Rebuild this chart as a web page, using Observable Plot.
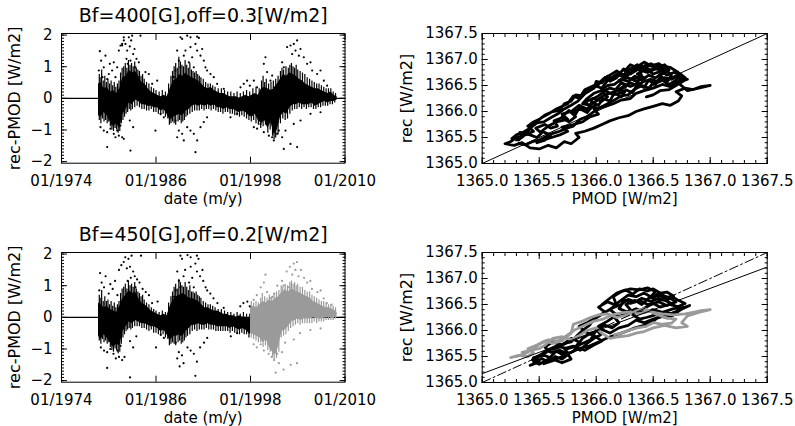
<!DOCTYPE html>
<html><head><meta charset="utf-8">
<script src="https://cdn.jsdelivr.net/npm/d3@7"></script>
<script src="https://cdn.jsdelivr.net/npm/@observablehq/plot@0.6"></script>
<style>
body{margin:0;background:#fff;}
#fig{position:relative;width:795px;height:426px;overflow:hidden;background:#fff;}
#fig > svg{position:absolute;}
</style></head><body><div id="fig"></div>
<script>
// ---------- tick labels ----------
const yearTicks = [1974, 1986, 1998, 2010];
const yearTickLabels = ["01/1974", "01/1986", "01/1998", "01/2010"];
const resTicks = [-2, -1, 0, 1, 2];
const tsiTicks = [1365.0, 1365.5, 1366.0, 1366.5, 1367.0, 1367.5];

// ---------- top-left: dense core band [year, low, high] ----------
const tlBand = [
[1978.7,-0.55,0.45],[1979.0,-0.6,0.5],[1979.4,-0.45,0.3],[1979.8,-0.55,0.35],[1980.2,-0.75,0.2],
[1980.6,-0.9,0.25],[1981.0,-0.8,0.15],[1981.4,-0.95,0.3],[1981.8,-0.5,0.65],[1982.2,-0.35,0.7],
[1982.6,-0.15,0.9],[1983.0,-0.2,0.8],[1983.4,-0.05,0.85],[1983.8,-0.1,0.7],[1984.2,-0.2,0.5],
[1984.6,-0.2,0.45],[1985.0,-0.25,0.3],[1985.4,-0.25,0.2],[1985.8,-0.3,0.15],[1986.2,-0.3,0.1],
[1986.6,-0.4,0.05],[1987.0,-0.35,0.1],[1987.4,-0.5,0.05],[1987.8,-0.7,0.3],[1988.2,-0.6,0.55],
[1988.6,-0.55,0.6],[1989.0,-0.5,0.75],[1989.4,-0.55,0.7],[1989.8,-0.4,0.8],[1990.2,-0.35,0.7],
[1990.6,-0.25,0.65],[1991.0,-0.2,0.6],[1991.4,-0.25,0.55],[1991.8,-0.2,0.45],[1992.2,-0.25,0.35],
[1992.6,-0.2,0.3],[1993.0,-0.25,0.35],[1993.4,-0.2,0.25],[1993.8,-0.3,0.2],[1994.2,-0.3,0.15],
[1994.6,-0.35,0.15],[1995.0,-0.3,0.1],[1995.4,-0.35,0.05],[1995.8,-0.35,0.05],[1996.2,-0.4,0.05],
[1996.6,-0.45,0.0],[1997.0,-0.4,0.05],[1997.4,-0.45,0.1],[1997.8,-0.55,0.05],[1998.2,-0.6,0.1],
[1998.6,-0.5,0.15],[1999.0,-0.7,0.1],[1999.4,-0.8,0.3],[1999.8,-0.7,0.35],[2000.2,-0.95,0.3],
[2000.6,-0.75,0.25],[2001.0,-1.15,0.3],[2001.4,-1.0,0.45],[2001.8,-0.6,0.6],[2002.2,-0.45,0.75],
[2002.6,-0.5,0.7],[2003.0,-0.3,0.8],[2003.4,-0.2,0.75],[2003.8,-0.2,0.7],[2004.2,-0.15,0.6],
[2004.6,-0.2,0.55],[2005.0,-0.2,0.45],[2005.4,-0.2,0.4],[2005.8,-0.15,0.35],[2006.2,-0.25,0.3],
[2006.6,-0.2,0.3],[2007.0,-0.15,0.25],[2007.4,-0.1,0.2],[2007.8,-0.15,0.15],[2008.2,-0.1,0.2],
[2008.6,-0.1,0.1],[2009.0,-0.05,0.05]
];
// top-left: tips of the streaks just outside the core [year, rec-PMOD]
const tlFringe = [
[1978.8,0.75],[1979.0,0.65],[1979.1,0.9],[1979.3,0.55],[1979.5,0.7],[1979.7,0.5],[1979.9,0.6],[1980.1,0.45],[1980.3,0.55],
[1980.5,0.4],[1980.7,0.5],[1980.9,0.35],[1981.1,0.45],[1981.3,0.55],[1981.5,0.8],[1981.7,0.95],[1981.9,1.0],[1982.1,1.1],
[1982.3,0.95],[1982.5,1.2],[1982.7,1.05],[1982.9,1.1],[1983.1,1.0],[1983.3,1.15],[1983.5,0.95],[1983.7,0.9],[1983.9,0.85],
[1984.1,0.7],[1984.3,0.75],[1984.5,0.6],[1984.8,0.5],[1985.1,0.45],[1985.4,0.35],[1985.7,0.3],[1986.0,0.25],[1986.4,0.2],
[1986.8,0.25],[1987.2,0.2],[1987.6,0.45],[1987.9,0.7],[1988.1,0.85],[1988.3,1.0],[1988.5,1.1],[1988.7,0.95],[1988.9,1.3],
[1989.1,1.15],[1989.3,1.05],[1989.5,1.0],[1989.7,1.2],[1989.9,1.05],[1990.1,0.95],[1990.3,1.1],[1990.5,0.9],[1990.7,0.85],
[1990.9,0.8],[1991.1,0.85],[1991.3,0.75],[1991.5,0.7],[1991.7,0.65],[1992.0,0.6],[1992.3,0.5],[1992.6,0.45],[1992.9,0.45],
[1993.2,0.4],[1993.5,0.35],[1993.9,0.3],[1994.3,0.3],[1994.7,0.25],[1995.1,0.2],[1995.5,0.2],[1995.9,0.15],[1996.3,0.2],
[1996.7,0.15],[1997.1,0.2],[1997.5,0.25],[1997.9,0.2],[1998.3,0.3],[1998.7,0.35],[1999.1,0.3],[1999.4,0.55],[1999.6,0.7],
[1999.8,0.5],[2000.0,0.6],[2000.3,0.45],[2000.6,0.5],[2000.9,0.55],[2001.2,0.6],[2001.5,0.7],[2001.8,0.85],[2002.0,0.95],
[2002.2,0.9],[2002.5,1.0],[2002.8,0.95],[2003.0,1.05],[2003.2,1.1],[2003.4,1.0],[2003.6,0.95],[2003.8,1.05],[2004.0,0.9],
[2004.3,0.85],[2004.6,0.8],[2004.9,0.75],[2005.2,0.65],[2005.5,0.6],[2005.8,0.55],[2006.1,0.5],[2006.4,0.45],[2006.7,0.45],
[2007.0,0.4],[2007.3,0.35],[2007.6,0.3],[2007.9,0.3],[2008.2,0.3],[2008.5,0.2],[2008.8,0.15],
[1978.8,-0.7],[1979.0,-0.8],[1979.2,-0.65],[1979.4,-0.75],[1979.6,-0.7],[1979.8,-0.8],[1980.0,-0.75],[1980.2,-0.9],[1980.4,-1.0],
[1980.6,-1.05],[1980.8,-0.95],[1981.0,-1.0],[1981.2,-1.1],[1981.4,-1.05],[1981.6,-0.8],[1981.8,-0.7],[1982.0,-0.6],[1982.2,-0.5],
[1982.4,-0.45],[1982.6,-0.35],[1982.8,-0.4],[1983.0,-0.35],[1983.3,-0.3],[1983.6,-0.25],[1983.9,-0.3],[1984.2,-0.35],[1984.5,-0.35],
[1984.8,-0.4],[1985.1,-0.4],[1985.4,-0.35],[1985.7,-0.45],[1986.0,-0.45],[1986.3,-0.5],[1986.6,-0.55],[1986.9,-0.5],[1987.2,-0.6],
[1987.5,-0.65],[1987.7,-0.85],[1987.9,-0.8],[1988.1,-0.75],[1988.3,-0.8],[1988.5,-0.85],[1988.8,-0.75],[1989.0,-0.7],[1989.2,-0.8],
[1989.4,-0.75],[1989.6,-0.7],[1989.8,-0.6],[1990.0,-0.55],[1990.3,-0.5],[1990.6,-0.45],[1990.9,-0.4],[1991.2,-0.4],[1991.5,-0.4],
[1991.8,-0.35],[1992.1,-0.4],[1992.4,-0.35],[1992.7,-0.35],[1993.0,-0.4],[1993.3,-0.35],[1993.6,-0.4],[1993.9,-0.45],[1994.2,-0.45],
[1994.5,-0.5],[1994.8,-0.45],[1995.1,-0.45],[1995.4,-0.5],[1995.7,-0.5],[1996.0,-0.55],[1996.3,-0.55],[1996.6,-0.6],[1996.9,-0.55],
[1997.2,-0.6],[1997.5,-0.65],[1997.8,-0.7],[1998.1,-0.75],[1998.4,-0.7],[1998.7,-0.8],[1999.0,-0.85],[1999.3,-0.95],[1999.6,-0.9],
[1999.9,-0.85],[2000.2,-1.1],[2000.5,-1.0],[2000.8,-1.2],[2001.0,-1.3],[2001.2,-1.25],[2001.5,-1.15],[2001.8,-0.8],[2002.1,-0.65],
[2002.4,-0.7],[2002.7,-0.65],[2003.0,-0.5],[2003.3,-0.4],[2003.6,-0.35],[2003.9,-0.35],[2004.2,-0.3],[2004.5,-0.35],[2004.8,-0.3],
[2005.1,-0.35],[2005.4,-0.3],[2005.7,-0.3],[2006.0,-0.35],[2006.3,-0.35],[2006.6,-0.3],[2006.9,-0.3],[2007.2,-0.25],[2007.5,-0.25],
[2007.8,-0.25],[2008.1,-0.2],[2008.4,-0.2],[2008.7,-0.15]
];
// top-left: isolated outliers
const tlDots = [
[1978.87,1.49],[1979.03,1.19],[1979.37,0.98],[1979.58,1.35],[1980.01,0.77],[1980.14,1.09],[1979.2,0.67],[1979.8,0.61],
[1978.74,0.88],[1980.43,0.88],[1980.64,1.14],[1980.85,0.67],[1981.07,0.98],[1981.28,1.51],[1981.49,1.67],[1981.7,1.72],
[1981.91,1.83],[1981.7,1.67],[1981.91,1.93],[1982.12,1.72],[1982.34,1.51],[1982.55,1.93],[1982.67,1.64],[1982.84,1.83],
[1982.97,1.98],[1983.1,1.40],[1983.27,1.56],[1983.52,1.25],[1983.82,1.14],[1984.03,1.98],[1982.25,1.25],[1982.42,1.09],
[1982.76,1.19],[1983.39,0.98],
[1978.95,-0.91],[1979.37,-1.02],[1979.8,-1.07],[1980.22,-0.96],[1980.64,-1.12],[1980.85,-1.23],[1981.07,-1.02],[1981.28,-1.18],
[1981.7,-1.23],[1981.91,-1.28],[1981.49,-0.86],[1980.43,-0.81],[1979.8,-1.54],[1982.76,-1.65],[1983.1,-0.91],[1982.67,-0.70],
[1984.66,0.83],[1985.09,0.77],[1985.51,0.46],[1986.15,0.56],[1986.57,-0.49],[1986.99,-0.6],[1985.93,-1.02],
[1989.11,1.93],[1989.32,1.88],[1989.96,1.98],[1990.38,1.93],[1991.23,1.95],[1991.44,1.91],[1991.01,1.72],[1990.38,1.62],
[1989.74,1.51],[1988.69,1.51],[1988.9,1.19],[1989.11,0.98],[1989.53,1.35],[1990.17,1.14],[1990.59,1.30],[1990.8,0.98],
[1991.65,1.35],[1992.07,1.19],[1992.28,0.98],[1992.49,0.88],[1992.92,0.77],[1993.34,0.67],[1991.86,1.56],[1991.23,1.51],
[1988.47,0.88],[1988.26,0.67],
[1988.47,-0.70],[1988.9,-1.02],[1989.32,-1.12],[1989.53,-1.33],[1989.96,-0.91],[1990.38,-1.02],[1990.8,-1.12],[1991.23,-1.33],
[1991.65,-0.91],[1992.07,-0.75],[1992.49,-0.60],[1989.11,-0.49],[1991.01,-1.70],[1988.69,-1.23],
[1993.76,0.46],[1994.61,0.30],[1996.73,0.35],[1997.15,0.46],[1995.46,-0.60],[1996.3,-0.49],[1997.57,0.56],[1997.91,0.40],
[1999.69,1.09],[1999.9,1.30],[2000.11,0.83],[2000.54,0.56],[2000.96,0.35],[2002.02,1.14],[2002.23,0.98],[2002.65,1.62],
[2003.08,1.67],[2003.29,1.40],[2003.5,1.72],[2003.71,1.51],[2003.92,1.83],[2004.14,1.35],[2004.35,1.56],[2004.77,1.30],
[2005.19,1.09],[2005.62,1.14],[2005.83,0.88],[2006.46,0.77],[2006.89,0.88],[2007.31,0.56],[2007.73,0.40],[2002.86,0.77],
[2002.44,0.67],[2000.75,0.72],[1998.84,0.35],[1998.42,0.56],
[1998.42,-0.91],[1998.84,-0.96],[1999.27,-0.81],[1999.69,-1.07],[2000.33,-1.18],[2000.75,-1.23],[2000.96,-1.33],[2001.38,-1.12],
[2001.6,-1.02],[2002.02,-1.23],[2002.44,-1.02],[2003.08,-1.44],[2003.92,-1.54],[2002.23,-1.60],[2003.5,-0.81],[2004.35,-0.70],
[2005.62,-0.49],[2006.89,-0.44]
];

// ---------- bottom-left: black core (to 1998) and grey core (from 1998) ----------
const blBandBlack = [
[1978.7,-0.6,0.45],[1979.0,-0.7,0.4],[1979.4,-0.55,0.3],[1979.8,-0.65,0.35],[1980.2,-0.8,0.25],
[1980.6,-0.95,0.2],[1981.0,-0.85,0.15],[1981.4,-0.9,0.35],[1981.8,-0.45,0.6],[1982.2,-0.3,0.7],
[1982.6,-0.15,0.85],[1983.0,-0.2,0.75],[1983.4,-0.1,0.8],[1983.8,-0.15,0.6],[1984.2,-0.2,0.45],
[1984.6,-0.2,0.4],[1985.0,-0.25,0.3],[1985.4,-0.3,0.2],[1985.8,-0.3,0.15],[1986.2,-0.35,0.1],
[1986.6,-0.45,0.05],[1987.0,-0.4,0.1],[1987.4,-0.55,0.05],[1987.8,-0.75,0.35],[1988.2,-0.6,0.55],
[1988.6,-0.6,0.65],[1989.0,-0.55,0.7],[1989.4,-0.6,0.75],[1989.8,-0.45,0.7],[1990.2,-0.35,0.6],
[1990.6,-0.25,0.6],[1991.0,-0.25,0.55],[1991.4,-0.2,0.5],[1991.8,-0.25,0.4],[1992.2,-0.25,0.3],
[1992.6,-0.2,0.3],[1993.0,-0.25,0.25],[1993.4,-0.25,0.2],[1993.8,-0.3,0.2],[1994.2,-0.3,0.15],
[1994.6,-0.3,0.1],[1995.0,-0.3,0.1],[1995.4,-0.35,0.05],[1995.8,-0.3,0.05],[1996.2,-0.35,0.0],
[1996.6,-0.4,0.05],[1997.0,-0.35,0.0],[1997.4,-0.4,0.0],[1997.8,-0.5,-0.05],[1998.0,-0.55,0.0]
];
const blBandGrey = [
[1998.0,-0.5,0.3],[1998.4,-0.55,0.35],[1998.8,-0.6,0.3],[1999.2,-0.65,0.4],[1999.6,-0.8,0.5],
[2000.0,-0.7,0.45],[2000.4,-0.95,0.55],[2000.8,-1.1,0.5],[2001.2,-1.2,0.6],[2001.6,-0.9,0.65],
[2002.0,-0.45,0.8],[2002.4,-0.4,0.85],[2002.8,-0.3,0.8],[2003.2,-0.15,0.9],[2003.6,-0.1,0.85],
[2004.0,-0.05,0.8],[2004.4,-0.1,0.75],[2004.8,-0.05,0.7],[2005.2,-0.05,0.65],[2005.6,-0.05,0.6],
[2006.0,0.0,0.5],[2006.4,-0.05,0.45],[2006.8,-0.05,0.4],[2007.2,-0.05,0.35],[2007.6,0.0,0.3],
[2008.0,0.0,0.3],[2008.4,-0.05,0.25],[2008.8,0.0,0.2],[2009.0,0.05,0.15]
];
const blFringeBlack = [
[1978.8,0.7],[1979.0,0.6],[1979.1,0.85],[1979.3,0.5],[1979.5,0.65],[1979.7,0.5],[1979.9,0.55],[1980.1,0.4],[1980.3,0.5],
[1980.5,0.35],[1980.7,0.45],[1980.9,0.3],[1981.1,0.4],[1981.3,0.5],[1981.5,0.75],[1981.7,0.9],[1981.9,0.95],[1982.1,1.05],
[1982.3,0.9],[1982.5,1.15],[1982.7,1.0],[1982.9,1.05],[1983.1,0.95],[1983.3,1.1],[1983.5,0.9],[1983.7,0.8],[1983.9,0.75],
[1984.1,0.65],[1984.3,0.7],[1984.5,0.55],[1984.8,0.45],[1985.1,0.4],[1985.4,0.3],[1985.7,0.25],[1986.0,0.2],[1986.4,0.15],
[1986.8,0.2],[1987.2,0.15],[1987.6,0.45],[1987.9,0.65],[1988.1,0.8],[1988.3,0.95],[1988.5,1.05],[1988.7,0.9],[1988.9,1.2],
[1989.1,1.1],[1989.3,1.0],[1989.5,0.95],[1989.7,1.1],[1989.9,0.95],[1990.1,0.85],[1990.3,1.0],[1990.5,0.8],[1990.7,0.8],
[1990.9,0.75],[1991.1,0.8],[1991.3,0.7],[1991.5,0.65],[1991.7,0.6],[1992.0,0.5],[1992.3,0.45],[1992.6,0.4],[1992.9,0.4],
[1993.2,0.35],[1993.5,0.3],[1993.9,0.25],[1994.3,0.25],[1994.7,0.2],[1995.1,0.15],[1995.5,0.15],[1995.9,0.1],[1996.3,0.15],
[1996.7,0.1],[1997.1,0.15],[1997.5,0.1],[1997.9,0.1],
[1978.8,-0.75],[1979.0,-0.85],[1979.2,-0.7],[1979.4,-0.8],[1979.6,-0.75],[1979.8,-0.85],[1980.0,-0.8],[1980.2,-0.95],[1980.4,-1.05],
[1980.6,-1.1],[1980.8,-1.0],[1981.0,-1.05],[1981.2,-1.15],[1981.4,-1.1],[1981.6,-0.85],[1981.8,-0.65],[1982.0,-0.55],[1982.2,-0.45],
[1982.4,-0.4],[1982.6,-0.35],[1982.8,-0.4],[1983.0,-0.35],[1983.3,-0.3],[1983.6,-0.3],[1983.9,-0.3],[1984.2,-0.35],[1984.5,-0.35],
[1984.8,-0.4],[1985.1,-0.45],[1985.4,-0.4],[1985.7,-0.5],[1986.0,-0.5],[1986.3,-0.55],[1986.6,-0.6],[1986.9,-0.55],[1987.2,-0.65],
[1987.5,-0.7],[1987.7,-0.9],[1987.9,-0.85],[1988.1,-0.8],[1988.3,-0.85],[1988.5,-0.9],[1988.8,-0.8],[1989.0,-0.75],[1989.2,-0.85],
[1989.4,-0.8],[1989.6,-0.75],[1989.8,-0.65],[1990.0,-0.6],[1990.3,-0.55],[1990.6,-0.45],[1990.9,-0.4],[1991.2,-0.45],[1991.5,-0.4],
[1991.8,-0.4],[1992.1,-0.4],[1992.4,-0.35],[1992.7,-0.4],[1993.0,-0.4],[1993.3,-0.4],[1993.6,-0.45],[1993.9,-0.45],[1994.2,-0.45],
[1994.5,-0.45],[1994.8,-0.45],[1995.1,-0.45],[1995.4,-0.5],[1995.7,-0.45],[1996.0,-0.5],[1996.3,-0.5],[1996.6,-0.55],[1996.9,-0.5],
[1997.2,-0.55],[1997.5,-0.55],[1997.8,-0.65]
];
const blFringeGrey = [
[1998.1,0.5],[1998.4,0.45],[1998.7,0.5],[1999.0,0.45],[1999.3,0.6],[1999.5,0.75],[1999.8,0.65],[2000.1,0.6],[2000.4,0.7],
[2000.7,0.65],[2001.0,0.75],[2001.3,0.8],[2001.6,0.85],[2001.9,1.0],[2002.1,0.95],[2002.4,1.05],[2002.7,1.0],[2003.0,1.1],
[2003.2,1.15],[2003.4,1.05],[2003.6,1.1],[2003.8,1.0],[2004.0,1.05],[2004.3,0.95],[2004.6,0.95],[2004.9,0.85],[2005.2,0.8],
[2005.5,0.8],[2005.8,0.7],[2006.1,0.65],[2006.4,0.6],[2006.7,0.55],[2007.0,0.5],[2007.3,0.5],[2007.6,0.45],[2007.9,0.4],
[2008.2,0.4],[2008.5,0.35],[2008.8,0.3],
[1998.1,-0.65],[1998.4,-0.7],[1998.7,-0.75],[1999.0,-0.8],[1999.3,-0.8],[1999.6,-0.95],[1999.9,-0.9],[2000.2,-1.05],[2000.5,-1.1],
[2000.8,-1.25],[2001.0,-1.35],[2001.3,-1.3],[2001.6,-1.1],[2001.9,-0.65],[2002.2,-0.6],[2002.5,-0.55],[2002.8,-0.45],[2003.1,-0.35],
[2003.4,-0.3],[2003.7,-0.25],[2004.0,-0.2],[2004.3,-0.25],[2004.6,-0.2],[2004.9,-0.2],[2005.2,-0.2],[2005.5,-0.2],[2005.8,-0.2],
[2006.1,-0.15],[2006.4,-0.2],[2006.7,-0.15],[2007.0,-0.15],[2007.3,-0.15],[2007.6,-0.1],[2007.9,-0.1],[2008.2,-0.1],[2008.5,-0.1],
[2008.8,-0.05]
];
const blDotsBlack = [
[1978.9,1.4],[1979.1,1.1],[1979.4,0.95],[1979.6,1.3],[1980.0,0.75],[1980.2,1.05],[1978.8,0.85],[1980.5,0.9],[1980.8,1.15],
[1981.1,0.7],[1981.3,1.5],[1981.6,1.65],[1981.9,1.75],
[1982.1,1.9],[1982.3,1.55],[1982.5,1.85],[1982.7,1.6],[1982.9,1.95],[1983.1,1.45],[1983.3,1.3],[1983.6,1.2],[1983.9,1.1],
[1984.1,1.95],[1982.4,1.15],[1982.8,1.25],[1983.4,0.95],[1984.3,0.9],
[1979.0,-0.95],[1979.4,-1.05],[1979.8,-1.1],[1980.2,-1.0],[1980.6,-1.15],[1980.9,-1.3],[1981.1,-1.05],[1981.3,-1.25],
[1981.7,-1.35],[1982.0,-1.25],[1981.5,-0.9],[1980.4,-0.85],[1979.8,-1.6],[1982.7,-1.9],[1983.1,-0.95],[1982.7,-0.75],[1983.5,-0.6],
[1984.7,0.8],[1985.1,0.7],[1985.5,0.45],[1986.2,0.5],[1986.6,-0.55],[1987.0,-0.65],[1986.0,-0.95],
[1989.1,1.95],[1989.3,1.85],[1990.0,1.97],[1990.4,1.9],[1991.2,1.95],[1991.4,1.85],[1991.0,1.7],[1990.4,1.6],[1989.7,1.5],
[1988.7,1.45],[1988.9,1.15],[1989.1,0.95],[1989.5,1.3],[1990.2,1.1],[1990.6,1.25],[1990.8,0.95],[1991.6,1.3],[1992.0,1.15],
[1992.3,0.95],[1992.5,0.85],[1992.9,0.75],[1993.3,0.6],[1991.9,1.5],[1991.2,1.45],[1988.5,0.85],[1988.3,0.65],
[1988.5,-0.8],[1988.9,-1.1],[1989.3,-1.2],[1989.5,-1.45],[1990.0,-0.95],[1990.4,-1.05],[1990.8,-1.15],[1991.2,-1.4],
[1991.6,-0.95],[1992.1,-0.8],[1992.5,-0.65],[1989.1,-0.55],[1991.0,-1.85],[1988.7,-1.3],[1989.0,-1.55],
[1993.8,0.45],[1994.6,0.3],[1996.7,0.35],[1997.1,0.45],[1995.5,-0.6],[1996.3,-0.5],[1997.6,0.5],[1997.9,0.35]
];
const blDotsGrey = [
[1998.4,0.55],[1998.8,0.7],[1999.3,0.95],[1999.7,1.1],[1999.9,1.35],[2000.1,0.8],[2000.5,0.6],[2001.0,0.75],[2001.4,1.0],
[2002.0,1.15],[2002.2,1.0],[2002.6,1.45],[2003.0,1.6],[2003.3,1.35],[2003.5,1.7],[2003.7,1.5],[2003.9,1.75],[2004.1,1.3],
[2004.4,1.5],[2004.8,1.25],[2005.2,1.1],[2005.6,1.15],[2005.8,0.9],[2006.5,0.8],[2006.9,0.85],[2007.3,0.6],[2007.7,0.45],
[2002.9,0.95],[2002.4,0.85],[2000.8,0.65],[2008.3,0.4],
[1998.4,-0.85],[1998.8,-0.95],[1999.3,-0.85],[1999.7,-1.05],[2000.3,-1.15],[2000.7,-1.25],[2001.0,-1.35],[2001.4,-1.15],
[2001.6,-1.45],[2002.0,-1.1],[2002.4,-0.8],[2003.1,-1.5],[2003.9,-1.45],[2002.2,-1.65],[2003.5,-0.7],[2004.3,-0.5],
[2005.6,-0.4],[2006.9,-0.35],[2001.2,-1.75]
];

// ---------- top-right: rec vs PMOD traces [PMOD, rec] ----------
const trPath = [
[1366.62,1366.80],[1366.55,1366.92],[1366.48,1366.88],[1366.42,1366.95],[1366.35,1366.85],[1366.30,1366.90],[1366.25,1366.78],
[1366.28,1366.70],[1366.20,1366.72],[1366.15,1366.62],[1366.10,1366.68],[1366.05,1366.55],[1366.00,1366.58],[1365.98,1366.45],
[1365.92,1366.40],[1365.88,1366.30],[1365.82,1366.32],[1365.78,1366.20],[1365.72,1366.15],[1365.68,1366.02],[1365.62,1366.00],
[1365.55,1365.93],[1365.50,1365.85],[1365.45,1365.80],[1365.40,1365.72],[1365.45,1365.62],[1365.38,1365.55],[1365.30,1365.50],
[1365.25,1365.42],[1365.20,1365.38],[1365.28,1365.35],[1365.35,1365.40],[1365.42,1365.30],[1365.50,1365.28],[1365.58,1365.35],
[1365.65,1365.30],[1365.72,1365.42],[1365.78,1365.38],
[1365.85,1365.50],[1365.82,1365.58],[1365.90,1365.62],[1365.98,1365.68],[1366.05,1365.75],[1366.12,1365.82],[1366.20,1365.88],
[1366.28,1365.92],[1366.35,1366.00],[1366.42,1366.05],[1366.50,1366.10],[1366.58,1366.15],[1366.65,1366.12],[1366.72,1366.20],
[1366.75,1366.30],[1366.70,1366.38],[1366.78,1366.45],[1366.85,1366.42],[1366.92,1366.48],[1367.00,1366.50],[1366.90,1366.45],
[1366.80,1366.40],
[1366.72,1366.55],[1366.80,1366.62],[1366.70,1366.68],[1366.62,1366.60],[1366.55,1366.70],[1366.60,1366.78],[1366.52,1366.82],
[1366.45,1366.75],[1366.38,1366.80],[1366.40,1366.68],[1366.32,1366.62],[1366.38,1366.55],[1366.30,1366.48],[1366.22,1366.55],
[1366.18,1366.45],[1366.25,1366.38],[1366.15,1366.32],[1366.08,1366.40],[1366.02,1366.30],[1365.95,1366.22],[1366.00,1366.12],
[1365.92,1366.05],[1365.85,1366.12],[1365.78,1366.00],[1365.70,1365.95],[1365.75,1365.85],[1365.65,1365.80],[1365.58,1365.72],
[1365.52,1365.62],[1365.60,1365.55],[1365.55,1365.45],[1365.48,1365.40],
[1365.58,1365.48],[1365.68,1365.55],[1365.75,1365.62],[1365.70,1365.70],[1365.80,1365.75],[1365.88,1365.80],[1365.95,1365.90],
[1366.02,1365.95],[1365.98,1366.05],[1366.08,1366.10],[1366.15,1366.15],[1366.22,1366.22],[1366.30,1366.25],[1366.35,1366.35],
[1366.42,1366.40],[1366.50,1366.45],[1366.58,1366.52],[1366.65,1366.48],[1366.72,1366.58],[1366.78,1366.65],[1366.72,1366.75],
[1366.65,1366.85],[1366.55,1366.88],[1366.48,1366.80],[1366.40,1366.88],[1366.32,1366.80],[1366.25,1366.65],[1366.18,1366.72],
[1366.10,1366.60],[1366.05,1366.45],[1365.98,1366.50],[1365.90,1366.42],[1365.85,1366.25],[1365.80,1366.30],[1365.75,1366.15],
[1365.65,1366.05],[1365.58,1365.95],[1365.52,1365.88],[1365.45,1365.75],[1365.40,1365.62],[1365.32,1365.45]
];
const trPath2 = [
[1365.30,1365.45],[1365.36,1365.52],[1365.33,1365.60],[1365.42,1365.55],[1365.48,1365.50],[1365.52,1365.58],[1365.47,1365.68],
[1365.55,1365.75],[1365.60,1365.68],[1365.66,1365.72],[1365.63,1365.82],[1365.70,1365.88],[1365.76,1365.80],[1365.82,1365.90],
[1365.78,1365.98],[1365.86,1366.05],[1365.92,1365.98],[1365.96,1366.08],[1365.90,1366.18],[1365.97,1366.25],[1366.05,1366.20],
[1366.10,1366.28],[1366.05,1366.38],[1366.12,1366.45],[1366.20,1366.40],[1366.26,1366.48],[1366.20,1366.60],[1366.28,1366.65],
[1366.35,1366.58],[1366.42,1366.65],[1366.36,1366.72],[1366.44,1366.82],[1366.50,1366.72],[1366.57,1366.78],[1366.62,1366.70],
[1366.68,1366.75],[1366.75,1366.70],[1366.70,1366.60],[1366.64,1366.52],[1366.58,1366.60],[1366.50,1366.55],[1366.46,1366.45],
[1366.40,1366.50],[1366.33,1366.42],[1366.28,1366.32],[1366.22,1366.30],[1366.16,1366.22],[1366.10,1366.15],[1366.04,1366.08],
[1365.98,1366.00],[1365.92,1365.90],[1365.86,1365.85],[1365.80,1365.72],[1365.74,1365.68],[1365.68,1365.62],[1365.62,1365.58],
[1365.56,1365.52],[1365.50,1365.45],[1365.44,1365.42],[1365.38,1365.36],[1365.32,1365.38]
];
const trPath3 = [
[1366.00,1366.50],[1366.06,1366.62],[1366.12,1366.70],[1366.18,1366.78],[1366.24,1366.70],[1366.30,1366.82],[1366.36,1366.90],
[1366.42,1366.82],[1366.48,1366.92],[1366.54,1366.85],[1366.60,1366.90],[1366.64,1366.80],[1366.58,1366.72],[1366.52,1366.65],
[1366.46,1366.70],[1366.40,1366.60],[1366.34,1366.68],[1366.28,1366.58],[1366.22,1366.62],[1366.16,1366.52],[1366.10,1366.50],
[1366.04,1366.40],[1365.98,1366.35],[1365.92,1366.25],[1365.88,1366.15],[1365.94,1366.12],[1366.00,1366.20],[1366.06,1366.30],
[1366.12,1366.35],[1366.18,1366.40],[1366.24,1366.48],[1366.30,1366.55],[1366.36,1366.50],[1366.42,1366.58],[1366.48,1366.62],
[1366.54,1366.58],[1366.60,1366.65],[1366.66,1366.62],[1366.72,1366.68],[1366.76,1366.58],[1366.70,1366.50],[1366.64,1366.42],
[1366.56,1366.40],[1366.50,1366.32],[1366.44,1366.28]
];
const trPath4 = [
[1365.70,1365.90],[1365.76,1366.02],[1365.82,1365.95],[1365.86,1366.10],[1365.92,1366.02],[1365.96,1366.18],[1366.02,1366.12],
[1366.06,1366.25],[1366.12,1366.20],[1366.16,1366.36],[1366.22,1366.28],[1366.26,1366.42],[1366.32,1366.36],[1366.36,1366.52],
[1366.42,1366.46],[1366.46,1366.60],[1366.52,1366.52],[1366.56,1366.66],[1366.62,1366.56],[1366.66,1366.70],[1366.60,1366.82],
[1366.50,1366.86],[1366.44,1366.90],[1366.36,1366.80],[1366.30,1366.72],[1366.24,1366.82],[1366.18,1366.65],[1366.12,1366.58],
[1366.08,1366.66],[1366.02,1366.52],[1365.96,1366.42],[1365.90,1366.34],[1365.84,1366.20],[1365.78,1366.12],[1365.72,1366.05],
[1365.66,1365.95],[1365.60,1365.88],[1365.54,1365.80],[1365.48,1365.78],[1365.42,1365.68],[1365.36,1365.60],[1365.30,1365.55],
[1365.26,1365.48]
];
const trLineX = [1365.0, 1367.5];
const trLineY = [1365.0, 1367.5];

// ---------- bottom-right ----------
const brPathBlack = [
[1365.42,1365.33],[1365.50,1365.40],[1365.45,1365.48],[1365.55,1365.52],[1365.62,1365.45],[1365.70,1365.38],[1365.78,1365.45],
[1365.75,1365.55],[1365.68,1365.62],[1365.60,1365.58],[1365.55,1365.68],[1365.62,1365.78],[1365.70,1365.72],[1365.78,1365.85],
[1365.85,1365.78],[1365.82,1365.68],[1365.90,1365.62],[1365.98,1365.72],[1366.05,1365.80],[1365.98,1365.90],[1365.90,1365.98],
[1365.85,1366.08],[1365.92,1366.15],[1366.00,1366.25],[1366.08,1366.35],[1366.02,1366.45],[1366.10,1366.55],[1366.18,1366.48],
[1366.15,1366.65],[1366.22,1366.75],[1366.30,1366.80],[1366.38,1366.78],[1366.45,1366.82],[1366.52,1366.75],[1366.48,1366.65],
[1366.58,1366.68],[1366.65,1366.62],[1366.70,1366.55],[1366.62,1366.48],[1366.55,1366.55],[1366.45,1366.50],[1366.38,1366.58],
[1366.30,1366.52],[1366.25,1366.60],[1366.20,1366.42],[1366.28,1366.35],[1366.35,1366.42],[1366.42,1366.35],[1366.50,1366.40],
[1366.58,1366.35],[1366.68,1366.42],[1366.78,1366.45],[1366.82,1366.48],[1366.72,1366.38],[1366.60,1366.28],[1366.50,1366.22],
[1366.42,1366.15],[1366.35,1366.20],[1366.28,1366.10],[1366.20,1366.05],[1366.12,1365.95],[1366.05,1366.02],[1365.95,1365.95],
[1365.88,1365.85],[1365.80,1365.60],[1365.72,1365.52],[1365.65,1365.60],[1365.58,1365.45],[1365.50,1365.35],[1365.45,1365.40],
[1365.55,1365.60],[1365.65,1365.70],[1365.75,1365.65],[1365.85,1365.72],[1365.95,1365.82],[1366.02,1366.08],[1366.10,1366.18],
[1366.18,1366.30],[1366.12,1366.40],[1366.20,1366.55],[1366.28,1366.68],[1366.35,1366.65],[1366.42,1366.72],[1366.50,1366.62],
[1366.60,1366.58],[1366.68,1366.50]
];
const brPathBlack2 = [
[1365.45,1365.36],[1365.52,1365.46],[1365.58,1365.40],[1365.64,1365.50],[1365.70,1365.45],[1365.76,1365.55],[1365.72,1365.65],
[1365.80,1365.70],[1365.86,1365.62],[1365.92,1365.75],[1365.98,1365.85],[1366.04,1365.92],[1366.00,1366.02],[1366.08,1366.10],
[1366.14,1366.05],[1366.20,1366.15],[1366.16,1366.25],[1366.24,1366.30],[1366.30,1366.40],[1366.26,1366.50],[1366.34,1366.58],
[1366.40,1366.50],[1366.46,1366.62],[1366.54,1366.70],[1366.60,1366.62],[1366.66,1366.66],[1366.72,1366.58],[1366.78,1366.52],
[1366.72,1366.46],[1366.64,1366.50],[1366.56,1366.45],[1366.50,1366.52],[1366.44,1366.45],[1366.38,1366.38],[1366.32,1366.30],
[1366.38,1366.22],[1366.44,1366.25],[1366.52,1366.30],[1366.60,1366.35],[1366.66,1366.32],[1366.74,1366.40],
[1366.68,1366.30],[1366.62,1366.24],[1366.56,1366.28],[1366.50,1366.18],[1366.42,1366.10],[1366.34,1366.05],[1366.26,1365.98],
[1366.18,1365.92],[1366.10,1365.86],[1366.02,1365.78],[1365.94,1365.70],[1365.86,1365.66],[1365.78,1365.58],[1365.70,1365.50],
[1365.62,1365.42],[1365.54,1365.36]
];
const brPathBlack3 = [
[1366.05,1366.50],[1366.12,1366.62],[1366.18,1366.72],[1366.26,1366.78],[1366.32,1366.70],[1366.38,1366.80],[1366.45,1366.76],
[1366.50,1366.80],[1366.56,1366.72],[1366.62,1366.74],[1366.68,1366.66],[1366.62,1366.58],[1366.55,1366.62],[1366.48,1366.56],
[1366.40,1366.62],[1366.34,1366.55],[1366.28,1366.60],[1366.22,1366.50],[1366.16,1366.45],[1366.10,1366.38],[1366.04,1366.30],
[1365.98,1366.22],[1365.94,1366.10],[1365.88,1366.00],[1365.84,1365.92],[1365.78,1365.78],[1365.72,1365.75],[1365.66,1365.66],
[1365.60,1365.64],[1365.54,1365.56],[1365.48,1365.50],[1365.44,1365.44]
];
const brPathGrey = [
[1365.25,1365.48],[1365.32,1365.52],[1365.40,1365.50],[1365.45,1365.58],[1365.40,1365.65],[1365.48,1365.72],[1365.55,1365.80],
[1365.62,1365.75],[1365.70,1365.80],[1365.78,1365.95],[1365.80,1366.12],[1365.88,1366.18],[1365.95,1366.25],[1366.02,1366.30],
[1366.10,1366.32],[1366.18,1366.25],[1366.28,1366.30],[1366.35,1366.38],[1366.42,1366.42],[1366.50,1366.35],[1366.58,1366.32],
[1366.68,1366.30],[1366.78,1366.32],[1366.85,1366.35],[1366.92,1366.38],[1367.00,1366.40],[1366.90,1366.35],[1366.80,1366.28],
[1366.75,1366.15],[1366.80,1366.08],[1366.70,1366.05],[1366.60,1366.10],[1366.50,1366.05],[1366.42,1365.98],[1366.35,1365.95],
[1366.28,1365.90],[1366.20,1365.88],[1366.12,1365.85],[1366.05,1365.95],[1366.00,1366.05],[1365.92,1366.00],[1365.85,1365.90],
[1365.78,1365.82],[1365.70,1365.88],[1365.62,1365.85],[1365.55,1365.72],[1365.50,1365.65],[1365.42,1365.62],[1365.35,1365.58]
];
const brPathGrey2 = [
[1365.30,1365.50],[1365.38,1365.56],[1365.46,1365.66],[1365.52,1365.76],[1365.58,1365.82],[1365.66,1365.80],[1365.74,1365.90],
[1365.82,1366.02],[1365.90,1366.10],[1365.98,1366.18],[1366.06,1366.22],[1366.14,1366.30],[1366.22,1366.34],[1366.30,1366.36],
[1366.38,1366.32],[1366.46,1366.38],[1366.54,1366.30],[1366.62,1366.24],[1366.70,1366.22],[1366.66,1366.14],[1366.58,1366.12],
[1366.50,1366.15],[1366.44,1366.08],[1366.36,1366.05],[1366.28,1366.00],[1366.22,1365.95],[1366.16,1365.92]
];
const brFitX = [1365.0, 1367.5];
const brFitY = [1365.17, 1367.22];
const brDiagX = [1365.0, 1367.5];
const brDiagY = [1365.0, 1367.5];

const GREY = "#9a9a9a";
const FONT = "DejaVu Sans";
const fig = document.getElementById("fig");
function place(svg, left, top) { svg.style.left = left + "px"; svg.style.top = top + "px"; fig.appendChild(svg); }

function ticks4(xMajor, xMinor, yMajor, yMinor) {
  const m = [];
  for (const a of ["bottom", "top"]) {
    m.push(Plot.axisX(xMajor, {anchor: a, tickSize: -6, tickFormat: () => "", label: null}));
    if (xMinor) m.push(Plot.axisX(xMinor, {anchor: a, tickSize: -3, tickFormat: () => "", label: null}));
  }
  for (const a of ["left", "right"]) {
    m.push(Plot.axisY(yMajor, {anchor: a, tickSize: -6, tickFormat: () => "", label: null}));
    if (yMinor) m.push(Plot.axisY(yMinor, {anchor: a, tickSize: -3, tickFormat: () => "", label: null}));
  }
  return m;
}
const centred = {text: d => d, textAnchor: "middle", lineAnchor: "middle"};

function timePanel(title, bands, streaks, dots) {
  const yMinor = d3.range(-20, 21).map(k => k / 10);
  return Plot.plot({
    width: 400, height: 213,
    marginLeft: 61, marginRight: 55.5, marginTop: 33, marginBottom: 50.3,
    x: {domain: [1974, 2010], axis: null},
    y: {domain: [-2.05, 2.05], axis: null},
    style: {fontFamily: FONT, fontSize: "15px", color: "black", background: "transparent", overflow: "visible"},
    marks: [
      Plot.ruleY([0], {stroke: "black", strokeWidth: 1.2}),
      ...streaks.map(s => Plot.ruleX(s.data, {x: d => d[0], y1: 0, y2: d => d[1], stroke: s.color, strokeWidth: 1.2, clip: true})),
      ...bands.map(b => Plot.areaY(b.data, {x: d => d[0], y1: d => d[1], y2: d => d[2], fill: b.color, clip: true})),
      ...dots.map(s => Plot.dot(s.data, {x: d => d[0], y: d => d[1], r: 1.1, fill: s.color, stroke: null, clip: true})),
      Plot.frame({stroke: "black", strokeWidth: 1}),
      ...ticks4(yearTicks, null, resTicks, yMinor),
      Plot.axisX(yearTicks, {anchor: "bottom", tickSize: 0, tickPadding: 12, label: null, fontSize: 15,
        tickFormat: d => yearTickLabels[yearTicks.indexOf(d)]}),
      Plot.axisY(resTicks, {anchor: "left", tickSize: 0, tickPadding: 9, label: null, fontSize: 15}),
      Plot.text([title], {...centred, frameAnchor: "top", dy: -18, fontSize: 19}),
      Plot.text(["date (m/y)"], {...centred, frameAnchor: "bottom", dy: 35.5, fontSize: 15}),
      Plot.text(["rec-PMOD [W/m2]"], {...centred, frameAnchor: "left", dx: -47, rotate: -90, fontSize: 16})
    ]
  });
}

function scatterPanel(paths, lines) {
  const minor = d3.range(13650, 13676).map(k => k / 10);
  return Plot.plot({
    width: 395, height: 213,
    marginLeft: 81.7, marginRight: 28.3, marginTop: 33, marginBottom: 50,
    x: {domain: [1365, 1367.5], axis: null},
    y: {domain: [1365, 1367.5], axis: null},
    style: {fontFamily: FONT, fontSize: "15px", color: "black", background: "transparent", overflow: "visible"},
    marks: [
      ...paths.map(p => Plot.line(p.data, {x: d => d[0], y: d => d[1], stroke: p.color, strokeWidth: 2.8,
        strokeLinejoin: "round", strokeLinecap: "round", clip: true})),
      ...lines.map(l => Plot.line(l.x.map((x, i) => [x, l.y[i]]), {x: d => d[0], y: d => d[1], stroke: "black",
        strokeWidth: 1, strokeDasharray: l.dash, clip: true})),
      Plot.frame({stroke: "black", strokeWidth: 1}),
      ...ticks4(tsiTicks, minor, tsiTicks, minor),
      Plot.axisX(tsiTicks, {anchor: "bottom", tickSize: 0, tickPadding: 12, label: null, fontSize: 15, tickFormat: d3.format(".1f")}),
      Plot.axisY(tsiTicks, {anchor: "left", tickSize: 0, tickPadding: 4.5, label: null, fontSize: 15, tickFormat: d3.format(".1f")}),
      Plot.text(["PMOD [W/m2]"], {...centred, frameAnchor: "bottom", dy: 35.5, fontSize: 15}),
      Plot.text(["rec [W/m2]"], {...centred, frameAnchor: "left", dx: -75, rotate: -90, fontSize: 16})
    ]
  });
}

place(timePanel("Bf=400[G],off=0.3[W/m2]",
  [{data: tlBand, color: "black"}],
  [{data: tlFringe, color: "black"}],
  [{data: tlDots, color: "black"}]), 0, 0);
place(timePanel("Bf=450[G],off=0.2[W/m2]",
  [{data: blBandBlack, color: "black"}, {data: blBandGrey, color: GREY}],
  [{data: blFringeBlack, color: "black"}, {data: blFringeGrey, color: GREY}],
  [{data: blDotsBlack, color: "black"}, {data: blDotsGrey, color: GREY}]), 0, 219);
place(scatterPanel([{data: trPath, color: "black"}, {data: trPath2, color: "black"}, {data: trPath3, color: "black"},
  {data: trPath4, color: "black"}],
  [{x: trLineX, y: trLineY, dash: null}]), 400, 0);
place(scatterPanel([{data: brPathBlack, color: "black"}, {data: brPathBlack2, color: "black"}, {data: brPathBlack3, color: "black"},
  {data: brPathGrey, color: GREY}, {data: brPathGrey2, color: GREY}],
  [{x: brFitX, y: brFitY, dash: null}, {x: brDiagX, y: brDiagY, dash: "9,3,2,3"}]), 400, 219);
</script>
</body></html>
